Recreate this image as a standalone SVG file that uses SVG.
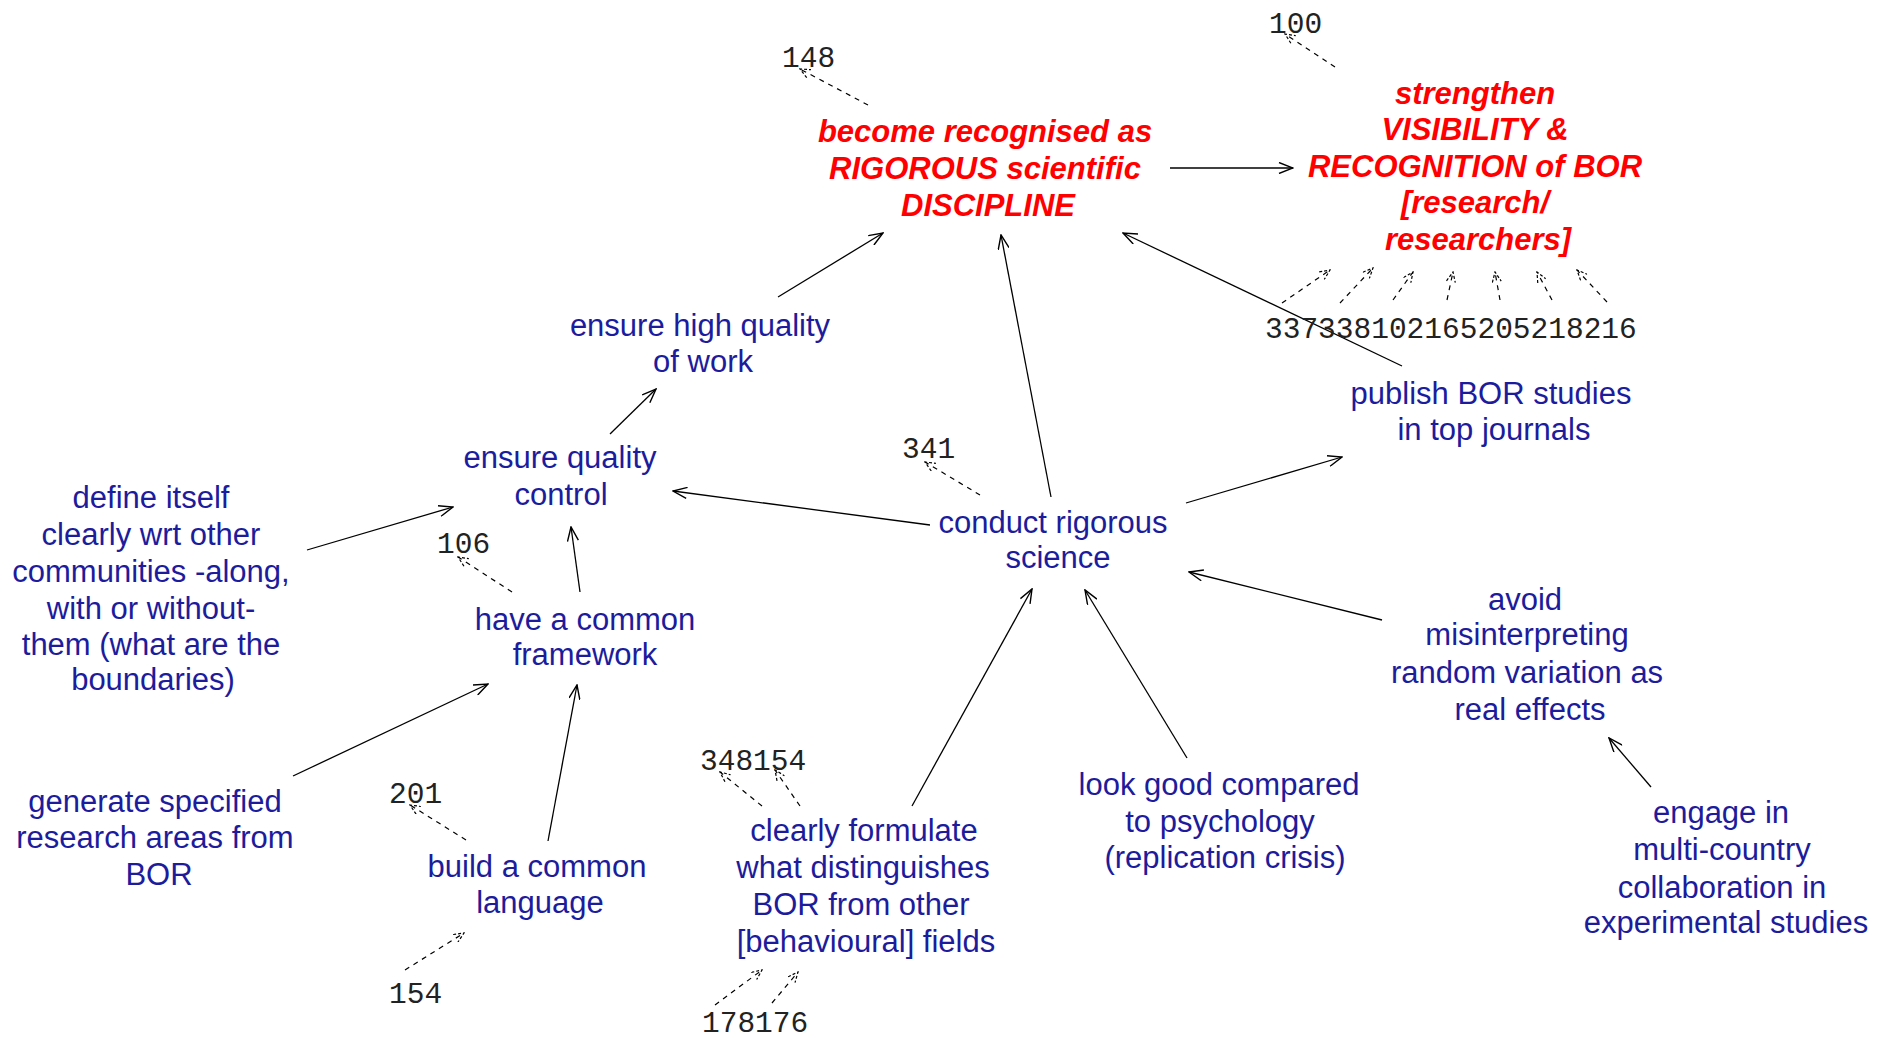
<svg xmlns="http://www.w3.org/2000/svg" width="1877" height="1041" viewBox="0 0 1877 1041">
<style>
.bg{fill:#ffffff}
.b{font-family:"Liberation Sans",Arial,sans-serif;font-size:31px;fill:#1c1c9c;text-anchor:middle}
.r{font-family:"Liberation Sans",Arial,sans-serif;font-size:31px;font-weight:bold;font-style:italic;fill:#ff0000;text-anchor:middle}
.n{font-family:"Liberation Mono","Courier New",monospace;font-size:29.5px;fill:#222222}
.c{fill:none;stroke:#000;stroke-width:1.3;marker-end:url(#ah)}
.d{fill:none;stroke:#000;stroke-width:1.2;stroke-dasharray:5 5;marker-end:url(#ahs)}
</style>
<defs>
<marker id="ah" viewBox="0 0 16 12" refX="15" refY="6" markerWidth="16" markerHeight="12" markerUnits="userSpaceOnUse" orient="auto">
<path d="M1,0.5 L15,6 L1,11.5" fill="none" stroke="#000" stroke-width="1.4"/>
</marker>
<marker id="ahs" viewBox="0 0 12 10" refX="11" refY="5" markerWidth="12" markerHeight="10" markerUnits="userSpaceOnUse" orient="auto">
<path d="M1,0.5 L11,5 L1,9.5" fill="none" stroke="#000" stroke-width="1.2" stroke-dasharray="3 2"/>
</marker>
</defs>
<rect class="bg" x="0" y="0" width="1877" height="1041"/>
<g id="connectors">
<line class="c" x1="778" y1="297" x2="883" y2="233"/>
<line class="c" x1="1051" y1="497" x2="1001" y2="235"/>
<line class="c" x1="1402" y1="366" x2="1123" y2="233"/>
<line class="c" x1="1170" y1="168" x2="1293" y2="168"/>
<line class="c" x1="610" y1="434" x2="656" y2="389"/>
<line class="c" x1="930" y1="525" x2="673" y2="491"/>
<line class="c" x1="307" y1="550" x2="453" y2="507"/>
<line class="c" x1="580" y1="592" x2="571" y2="527"/>
<line class="c" x1="293" y1="776" x2="488" y2="684"/>
<line class="c" x1="548" y1="841" x2="577" y2="685"/>
<line class="c" x1="1186" y1="503" x2="1342" y2="457"/>
<line class="c" x1="912" y1="806" x2="1032" y2="589"/>
<line class="c" x1="1187" y1="758" x2="1085" y2="590"/>
<line class="c" x1="1382" y1="620" x2="1189" y2="572"/>
<line class="c" x1="1651" y1="787" x2="1609" y2="738"/>
<line class="d" x1="868" y1="105" x2="800" y2="69"/>
<line class="d" x1="1335" y1="67" x2="1285" y2="34"/>
<line class="d" x1="980" y1="495" x2="925" y2="462"/>
<line class="d" x1="512" y1="592" x2="458" y2="557"/>
<line class="d" x1="466" y1="840" x2="410" y2="805"/>
<line class="d" x1="405" y1="970" x2="464" y2="933"/>
<line class="d" x1="762" y1="806" x2="720" y2="772"/>
<line class="d" x1="800" y1="806" x2="775" y2="770"/>
<line class="d" x1="715" y1="1005" x2="762" y2="970"/>
<line class="d" x1="772" y1="1003" x2="798" y2="972"/>
<line class="d" x1="1282" y1="303" x2="1330" y2="270"/>
<line class="d" x1="1340" y1="303" x2="1373" y2="268"/>
<line class="d" x1="1393" y1="300" x2="1413" y2="272"/>
<line class="d" x1="1447" y1="300" x2="1453" y2="272"/>
<line class="d" x1="1500" y1="300" x2="1495" y2="272"/>
<line class="d" x1="1552" y1="300" x2="1537" y2="272"/>
<line class="d" x1="1607" y1="302" x2="1577" y2="270"/>
</g>
<g id="refs">
<text class="n" x="1269" y="33">100</text>
<text class="n" x="782" y="67">148</text>
<text class="n" x="902" y="458">341</text>
<text class="n" x="437" y="553">106</text>
<text class="n" x="389" y="803">201</text>
<text class="n" x="389" y="1003">154</text>
<text class="n" x="700" y="770">348154</text>
<text class="n" x="702" y="1032">178176</text>
<text class="n" x="1265" y="338">337338102165205218216</text>
</g>
<g id="n_become">
<text class="r" x="985" y="142">become recognised as</text>
<text class="r" x="985" y="179">RIGOROUS scientific</text>
<text class="r" x="988" y="216">DISCIPLINE</text>
</g>
<g id="n_strengthen">
<text class="r" x="1475" y="104">strengthen</text>
<text class="r" x="1475" y="140">VISIBILITY &amp;</text>
<text class="r" x="1475" y="177">RECOGNITION of BOR</text>
<text class="r" x="1475" y="213">[research/</text>
<text class="r" x="1478" y="250">researchers]</text>
</g>
<g id="n_define">
<text class="b" x="151" y="508">define itself</text>
<text class="b" x="151" y="545">clearly wrt other</text>
<text class="b" x="151" y="582">communities -along,</text>
<text class="b" x="151" y="619">with or without-</text>
<text class="b" x="151" y="655">them (what are the</text>
<text class="b" x="153" y="690">boundaries)</text>
</g>
<g id="n_highquality">
<text class="b" x="700" y="336">ensure high quality</text>
<text class="b" x="703" y="372">of work</text>
</g>
<g id="n_qualitycontrol">
<text class="b" x="560" y="468">ensure quality</text>
<text class="b" x="561" y="505">control</text>
</g>
<g id="n_framework">
<text class="b" x="585" y="630">have a common</text>
<text class="b" x="585" y="665">framework</text>
</g>
<g id="n_conduct">
<text class="b" x="1053" y="533">conduct rigorous</text>
<text class="b" x="1058" y="568">science</text>
</g>
<g id="n_publish">
<text class="b" x="1491" y="404">publish BOR studies</text>
<text class="b" x="1494" y="440">in top journals</text>
</g>
<g id="n_generate">
<text class="b" x="155" y="812">generate specified</text>
<text class="b" x="155" y="848">research areas from</text>
<text class="b" x="159" y="885">BOR</text>
</g>
<g id="n_language">
<text class="b" x="537" y="877">build a common</text>
<text class="b" x="540" y="913">language</text>
</g>
<g id="n_formulate">
<text class="b" x="864" y="841">clearly formulate</text>
<text class="b" x="863" y="878">what distinguishes</text>
<text class="b" x="861" y="915">BOR from other</text>
<text class="b" x="866" y="952">[behavioural] fields</text>
</g>
<g id="n_lookgood">
<text class="b" x="1219" y="795">look good compared</text>
<text class="b" x="1220" y="832">to psychology</text>
<text class="b" x="1225" y="868">(replication crisis)</text>
</g>
<g id="n_avoid">
<text class="b" x="1525" y="610">avoid</text>
<text class="b" x="1527" y="645">misinterpreting</text>
<text class="b" x="1527" y="683">random variation as</text>
<text class="b" x="1530" y="720">real effects</text>
</g>
<g id="n_engage">
<text class="b" x="1721" y="823">engage in</text>
<text class="b" x="1722" y="860">multi-country</text>
<text class="b" x="1722" y="898">collaboration in</text>
<text class="b" x="1726" y="933">experimental studies</text>
</g>
</svg>
